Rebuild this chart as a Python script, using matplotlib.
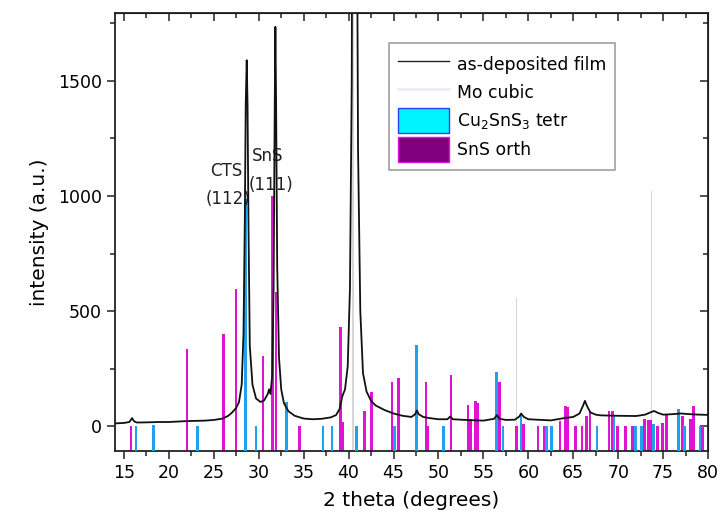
import matplotlib
matplotlib.use("Agg")
import matplotlib.pyplot as plt
from matplotlib.patches import Patch
from matplotlib.lines import Line2D
from matplotlib.ticker import MultipleLocator

# Measured XRD scan of the as-deposited film (2theta, counts)
film_2theta = [14.0, 15.0, 15.6, 15.9, 16.1, 16.4, 17.0, 18.0, 19.0, 20.0, 21.0, 22.0, 23.0,
               24.0, 25.0, 26.0, 26.6, 27.0, 27.5, 27.8, 28.1, 28.3, 28.45, 28.55, 28.66,
               28.75, 28.85, 29.0, 29.3, 29.7, 30.2, 30.6, 31.0, 31.15, 31.3, 31.5, 31.65,
               31.78, 31.85, 31.93, 32.05, 32.25, 32.5, 32.8, 33.3, 34.0, 35.0, 36.0, 37.0,
               38.0, 38.6, 39.0, 39.3, 39.6, 39.9, 40.15, 40.35, 40.55, 40.7, 40.85, 41.05,
               41.3, 41.6, 42.0, 42.5, 43.0, 44.0, 45.0, 46.0, 47.0, 47.4, 47.6, 47.8, 48.3,
               49.0, 50.0, 51.0, 51.3, 51.6, 53.0, 55.0, 56.2, 56.5, 56.8, 57.5, 58.5,
               59.0, 59.2, 59.5, 60.0, 61.0, 62.5, 64.0, 65.0, 65.7, 66.1, 66.3, 66.5,
               66.9, 67.5, 68.0, 70.0, 72.0, 73.0, 73.6, 74.0, 74.4, 75.0, 76.0, 77.0,
               78.0, 79.0, 80.0]
film_counts = [12, 14, 18, 35, 22, 16, 16, 17, 18, 18, 20, 22, 23,
               24, 27, 33, 45, 58, 80, 105, 180, 400, 900, 1400, 1590,
               1400, 900, 350, 180, 120, 105, 112, 140, 160, 140, 220, 600,
               1400, 1735, 1400, 700, 300, 160, 100, 65, 45, 33, 30, 32,
               38, 48, 75, 130, 160, 260, 600, 1500, 5000, 5000, 3000, 1200,
               500, 230, 150, 110, 90, 70, 55, 45, 40, 52, 68, 52, 40,
               35, 30, 30, 42, 30, 27, 24, 32, 48, 32, 27, 28,
               42, 55, 40, 30, 28, 25, 35, 40, 55, 90, 110, 90,
               60, 50, 47, 45, 44, 50, 60, 66, 58, 50, 52, 55,
               52, 50, 49]

# Mo cubic reference lines
mo_2theta = [40.5, 58.65, 73.7]
mo_int = [1800, 555, 1020]

# Cu2SnS3 tetragonal reference lines
cts_2theta = [16.34, 18.27, 23.2, 28.56, 29.68, 33.06, 37.15, 38.16, 40.87, 45.14,
              47.55, 50.55, 56.47, 57.17, 59.18, 62.0, 62.57, 67.65, 69.53, 71.94,
              72.57, 73.9, 76.75, 77.37, 79.12]
cts_int = [2, 6, 2, 985, 2, 107, 2, 2, 2, 2,
           353, 2, 236, 2, 50, 2, 2, 2, 45, 2,
           2, 8, 74, 2, 2]

# SnS orthorhombic reference lines
sns_2theta = [15.78, 22.0, 26.04, 27.48, 30.46, 31.55, 31.92, 34.55, 39.08, 39.34,
              41.76, 42.54, 44.84, 45.58, 48.6, 48.85, 51.38, 53.28, 53.6, 54.13,
              54.39, 56.77, 58.72, 59.47, 61.07, 61.78, 63.52, 64.16, 64.41, 65.27,
              65.98, 66.45, 66.85, 68.98, 69.35, 69.9, 70.83, 71.57, 72.94, 73.4,
              73.67, 74.34, 74.9, 75.4, 77.15, 78.04, 78.37, 79.35]
sns_int = [2, 337, 402, 595, 305, 1000, 582, 2, 431, 17,
           67, 149, 192, 211, 190, 2, 221, 93, 30, 108,
           102, 192, 2, 10, 2, 2, 23, 88, 82, 2,
           2, 45, 60, 64, 64, 2, 2, 2, 33, 27,
           27, 2, 15, 50, 45, 33, 88, 2]

x_range = (14, 80)
y_range = (-108, 1795)

fig = plt.figure(figsize=(7.21, 5.22), dpi=100)
ax = fig.add_axes([0.1595, 0.136, 0.8225, 0.839])

base = y_range[0]
ax.bar(mo_2theta, [v - base for v in mo_int], bottom=base, width=0.14,
       color="#d6d6da", linewidth=0, zorder=1)
ax.bar(sns_2theta, [v - base for v in sns_int], bottom=base, width=0.3,
       color="#e012d4", linewidth=0, zorder=2)
ax.bar(cts_2theta, [v - base for v in cts_int], bottom=base, width=0.3,
       color="#1ea2ee", linewidth=0, zorder=3)
ax.plot(film_2theta, film_counts, color="#111111", lw=1.3, zorder=4)

ax.set_xlim(*x_range)
ax.set_ylim(*y_range)

ax.yaxis.set_major_locator(MultipleLocator(500))
ax.yaxis.set_minor_locator(MultipleLocator(250))
ax.set_xticks([15, 20, 25, 30, 35, 40, 45, 50, 55, 60, 65, 70, 75, 80])
ax.xaxis.set_minor_locator(MultipleLocator(2.5))

ax.tick_params(axis="both", which="both", direction="out", labelsize=12.5,
               color="#222222", width=1.1)
ax.tick_params(axis="both", which="major", length=6)
ax.tick_params(axis="both", which="minor", length=3.5)
for s in ax.spines.values():
    s.set_linewidth(1.3)
    s.set_color("#222222")

# inward ticks on the top and right edges
top = ax.secondary_xaxis("top")
top.set_xticks(ax.get_xticks())
top.xaxis.set_minor_locator(MultipleLocator(2.5))
top.tick_params(which="both", direction="in", labeltop=False, width=1.1, color="#222222")
top.tick_params(which="major", length=6)
top.tick_params(which="minor", length=3.5)
right = ax.secondary_yaxis("right")
right.yaxis.set_major_locator(MultipleLocator(500))
right.yaxis.set_minor_locator(MultipleLocator(250))
right.tick_params(which="both", direction="in", labelright=False, width=1.1, color="#222222")
right.tick_params(which="major", length=6)
right.tick_params(which="minor", length=3.5)

ax.set_xlabel("2 theta (degrees)", fontsize=14.5, labelpad=6)
ax.set_ylabel("intensity (a.u.)", fontsize=14.5, labelpad=6)

ax.text(26.4, 1107, "CTS", fontsize=12, ha="center", va="center", color="#222222")
ax.text(26.6, 986, "(112)", fontsize=12, ha="center", va="center", color="#222222")
ax.text(31.0, 1172, "SnS", fontsize=12, ha="center", va="center", color="#222222")
ax.text(31.33, 1046, "(111)", fontsize=12, ha="center", va="center", color="#222222")

handles = [
    Line2D([], [], color="#222222", lw=1.0),
    Line2D([], [], color="#eceef4", lw=2.0),
    Patch(facecolor="#00f4ff", edgecolor="#2a40ff", linewidth=1.0),
    Patch(facecolor="#800080", edgecolor="#e010e0", linewidth=1.0),
]
labels = ["as-deposited film", "Mo cubic", r"Cu$_2$SnS$_3$ tetr", "SnS orth"]
leg = ax.legend(handles, labels, loc="upper right", bbox_to_anchor=(0.858, 0.951),
                fontsize=12.4, frameon=True, fancybox=False, edgecolor="#888888",
                handlelength=3.0, handleheight=1.85, handletextpad=0.45,
                labelspacing=0.2, borderpad=0.5)
leg.get_frame().set_linewidth(1.2)

fig.savefig("out.png", dpi=100)
